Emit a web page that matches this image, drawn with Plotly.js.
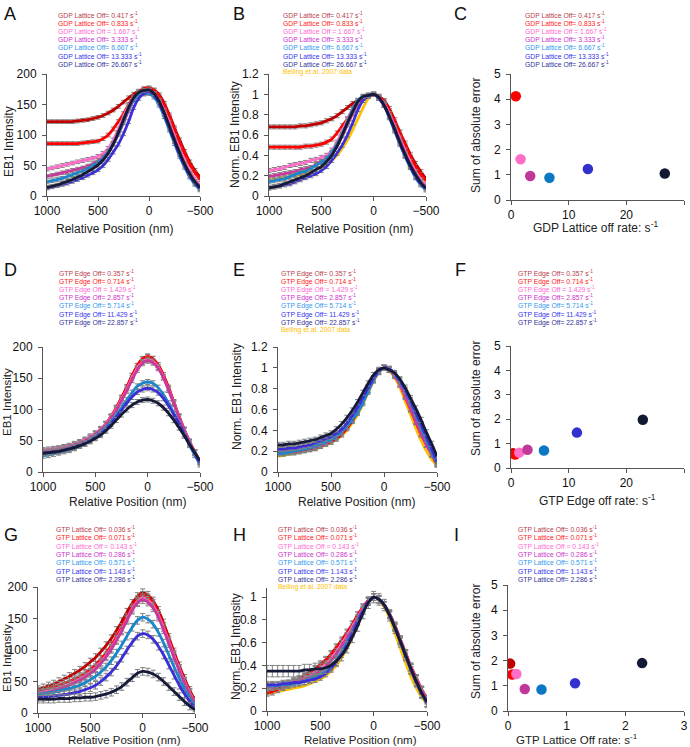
<!DOCTYPE html>
<html>
<head>
<meta charset="utf-8">
<script src="https://cdn.plot.ly/plotly-3.0.1.min.js"></script>
<style>html,body{margin:0;padding:0;background:#fff;}#chart{width:690px;height:747px;}</style>
</head>
<body>
<div id="chart"></div>
<script>
// ---------- DATA ----------
const positions = [1000,950,900,850,800,750,700,650,600,550,500,450,400,350,300,250,200,150,100,50,0,-50,-100,-150,-200,-250,-300,-350,-400,-450,-500];

// Panel A: GDP lattice off, EB1 intensity
const gdpInt1 = [122,122,122,122,122,122,123,124,125,127,129,132,136,141,147,154,161,167,172,175,177,174,166,152,133,112,92,73,56,42,31];
const gdpInt2 = [86,86,86,86,86,86,86,87,88,89,90,94,100,110,122,135,150,163,171,176,177,173,164,149,130,109,88,69,52,38,27];
const gdpInt3 = [44,46,48,50,52,54,56,58,60,62,65,70,78,92,110,130,148,160,168,171,173,168,157,140,120,98,77,58,41,28,18];
const gdpInt4 = [32,34,36,38,40,42,44,46,49,53,58,64,73,85,101,120,140,157,167,171,172,166,154,136,115,93,72,53,37,24,15];
const gdpInt5 = [23,25,27,29,32,35,38,41,45,50,55,62,72,86,103,123,143,158,165,167,168,162,149,130,108,86,65,47,31,19,10];
const gdpInt6 = [13,15,17,19,21,24,27,30,34,38,43,50,60,72,85,102,122,145,160,168,171,165,152,133,111,89,68,49,33,21,12];
const gdpInt7 = [14,16,18,21,24,27,31,35,40,45,51,59,70,85,104,125,145,161,170,173,174,168,155,136,114,92,71,52,36,23,14];

// Panel B: GDP lattice off, normalized
const gdpNorm1 = [0.68,0.68,0.68,0.68,0.68,0.68,0.69,0.69,0.70,0.71,0.72,0.74,0.76,0.79,0.83,0.87,0.91,0.94,0.97,0.99,1.0,0.98,0.94,0.86,0.75,0.63,0.52,0.41,0.32,0.24,0.17];
const gdpNorm2 = [0.48,0.48,0.48,0.48,0.48,0.48,0.48,0.49,0.49,0.50,0.51,0.53,0.56,0.62,0.69,0.76,0.85,0.92,0.96,0.99,1.0,0.98,0.93,0.84,0.73,0.62,0.50,0.39,0.29,0.21,0.15];
const gdpNorm3 = [0.25,0.26,0.27,0.28,0.30,0.31,0.32,0.33,0.35,0.36,0.38,0.40,0.45,0.53,0.64,0.75,0.86,0.93,0.97,0.99,1.0,0.97,0.91,0.81,0.69,0.57,0.45,0.34,0.24,0.16,0.10];
const gdpNorm4 = [0.19,0.20,0.21,0.22,0.23,0.24,0.26,0.27,0.28,0.31,0.34,0.37,0.42,0.49,0.59,0.70,0.81,0.91,0.97,0.99,1.0,0.97,0.90,0.79,0.67,0.54,0.42,0.31,0.22,0.14,0.09];
const gdpNorm5 = [0.14,0.15,0.16,0.17,0.19,0.21,0.23,0.24,0.27,0.30,0.33,0.37,0.43,0.51,0.61,0.73,0.85,0.94,0.98,0.99,1.0,0.96,0.89,0.77,0.64,0.51,0.39,0.28,0.18,0.11,0.06];
const gdpNorm6 = [0.08,0.09,0.10,0.11,0.12,0.14,0.16,0.18,0.20,0.22,0.25,0.29,0.35,0.42,0.50,0.60,0.72,0.85,0.94,0.98,1.0,0.96,0.89,0.78,0.65,0.52,0.40,0.29,0.19,0.12,0.07];
const gdpNorm7 = [0.08,0.09,0.10,0.12,0.14,0.16,0.18,0.20,0.23,0.26,0.29,0.34,0.40,0.49,0.60,0.72,0.83,0.93,0.98,0.99,1.0,0.97,0.89,0.78,0.66,0.53,0.41,0.30,0.21,0.13,0.08];
const beiling = [0.15,0.16,0.17,0.18,0.19,0.20,0.21,0.22,0.24,0.26,0.28,0.31,0.35,0.40,0.47,0.55,0.65,0.76,0.87,0.96,1.0,0.97,0.91,0.81,0.68,0.55,0.42,0.30,0.20,0.12,0.06];

// Panel C: GDP lattice off rate vs error
const gdpRates = [0.833,1.667,3.333,6.667,13.333,26.667];
const gdpError = [4.12,1.62,0.95,0.88,1.23,1.05];

// Panel D: GTP edge off, EB1 intensity
const edgeInt1 = [33,34,35,37,39,41,43,46,50,55,61,68,77,88,102,118,135,153,169,180,184,181,171,155,135,112,89,68,49,32,17];
const edgeInt2 = [33,34,35,37,38,40,43,46,50,55,61,68,77,89,103,119,136,154,170,181,185,181,171,155,134,111,88,67,48,31,16];
const edgeInt3 = [35,36,37,38,40,42,45,48,52,57,62,69,77,88,101,116,132,150,166,176,180,177,168,152,132,110,88,67,48,31,17];
const edgeInt4 = [32,33,34,36,38,40,43,46,50,54,60,67,75,86,99,114,130,147,163,174,178,175,166,151,131,109,87,66,47,30,16];
const edgeInt5 = [26,27,29,31,33,35,38,42,46,51,57,63,71,80,91,103,115,127,137,142,144,142,135,124,110,94,77,60,43,27,12];
const edgeInt6 = [30,31,32,33,35,37,40,43,46,50,55,61,68,77,88,99,110,120,128,132,134,132,127,118,106,92,77,61,45,30,14];
const edgeInt7 = [30,31,32,33,35,37,39,42,45,49,54,59,66,74,83,92,100,107,112,115,116,114,110,103,94,83,71,58,44,31,18];

// Panel E: GTP edge off, normalized
const edgeNorm1 = [0.18,0.18,0.19,0.19,0.20,0.21,0.22,0.23,0.25,0.27,0.29,0.32,0.36,0.42,0.49,0.57,0.67,0.78,0.88,0.96,1.0,0.98,0.93,0.84,0.73,0.61,0.48,0.37,0.27,0.17,0.08];
const edgeNorm2 = [0.18,0.18,0.19,0.19,0.20,0.21,0.22,0.23,0.25,0.27,0.30,0.33,0.37,0.43,0.50,0.58,0.68,0.79,0.89,0.97,1.0,0.98,0.92,0.84,0.72,0.60,0.48,0.36,0.26,0.17,0.07];
const edgeNorm3 = [0.21,0.21,0.22,0.22,0.23,0.24,0.25,0.26,0.28,0.30,0.32,0.35,0.39,0.44,0.51,0.59,0.68,0.79,0.89,0.97,1.0,0.98,0.93,0.84,0.73,0.61,0.49,0.37,0.27,0.17,0.09];
const edgeNorm4 = [0.19,0.19,0.20,0.20,0.21,0.22,0.23,0.24,0.26,0.28,0.31,0.34,0.38,0.44,0.51,0.59,0.68,0.79,0.89,0.96,1.0,0.98,0.93,0.85,0.74,0.61,0.49,0.37,0.26,0.17,0.09];
const edgeNorm5 = [0.18,0.18,0.19,0.20,0.21,0.22,0.23,0.25,0.27,0.29,0.31,0.34,0.39,0.44,0.50,0.57,0.66,0.77,0.88,0.96,1.0,0.99,0.94,0.87,0.78,0.67,0.55,0.43,0.31,0.19,0.08];
const edgeNorm6 = [0.22,0.22,0.23,0.23,0.24,0.25,0.26,0.28,0.30,0.32,0.34,0.37,0.41,0.47,0.54,0.62,0.71,0.81,0.90,0.97,1.0,0.99,0.95,0.88,0.79,0.69,0.57,0.46,0.34,0.22,0.10];
const edgeNorm7 = [0.26,0.26,0.27,0.27,0.28,0.29,0.30,0.31,0.33,0.35,0.37,0.41,0.46,0.52,0.59,0.67,0.76,0.85,0.93,0.98,1.0,0.98,0.95,0.89,0.81,0.71,0.61,0.50,0.38,0.27,0.15];

// Panel F: GTP edge off rate vs error
const edgeRates = [0.357,0.714,1.429,2.857,5.714,11.429,22.857];
const edgeError = [0.60,0.55,0.63,0.75,0.72,1.45,1.98];

// Panel G: GTP lattice off, EB1 intensity
const gtpInt1 = [37,40,43,46,50,54,58,63,68,74,81,88,97,107,118,131,145,160,174,185,191,187,178,163,143,120,97,75,55,36,20];
const gtpInt2 = [34,36,39,41,44,47,50,54,58,63,69,76,85,95,107,121,136,152,168,180,187,183,174,158,138,116,93,71,51,33,17];
const gtpInt3 = [31,33,35,38,40,43,46,50,54,59,65,72,81,91,103,117,132,149,165,177,183,179,170,155,135,113,91,70,50,32,16];
const gtpInt4 = [29,31,33,35,38,41,44,48,52,57,63,70,79,89,101,115,130,147,163,175,180,176,167,152,132,110,88,67,48,30,15];
const gtpInt5 = [30,31,32,33,35,37,39,41,44,48,53,58,65,73,83,95,108,122,136,147,152,149,141,128,111,92,73,55,38,23,11];
const gtpInt6 = [25,25,26,27,28,29,30,32,34,37,40,44,50,57,65,75,87,100,112,122,126,124,117,106,92,76,60,44,30,18,8];
const gtpInt7 = [22,22,22,22,23,23,23,24,24,25,25,26,28,30,33,37,42,49,56,63,66,65,62,57,50,42,34,26,18,11,5];

// Panel H: GTP lattice off, normalized
const gtpNorm1 = [0.17,0.18,0.20,0.22,0.24,0.26,0.28,0.31,0.34,0.37,0.41,0.45,0.50,0.56,0.62,0.69,0.76,0.84,0.91,0.97,1.0,0.98,0.93,0.85,0.75,0.63,0.51,0.39,0.29,0.19,0.11];
const gtpNorm2 = [0.16,0.17,0.19,0.21,0.23,0.25,0.27,0.30,0.33,0.36,0.40,0.44,0.49,0.55,0.61,0.68,0.76,0.84,0.91,0.97,1.0,0.98,0.93,0.85,0.74,0.62,0.50,0.38,0.28,0.18,0.10];
const gtpNorm3 = [0.20,0.21,0.22,0.23,0.24,0.26,0.27,0.29,0.31,0.34,0.37,0.41,0.46,0.52,0.59,0.66,0.74,0.82,0.90,0.96,1.0,0.98,0.93,0.85,0.74,0.62,0.50,0.38,0.28,0.18,0.10];
const gtpNorm4 = [0.21,0.21,0.22,0.23,0.24,0.25,0.26,0.28,0.30,0.32,0.35,0.39,0.44,0.50,0.57,0.64,0.72,0.81,0.89,0.96,1.0,0.98,0.93,0.85,0.74,0.62,0.50,0.38,0.28,0.18,0.09];
const gtpNorm5 = [0.22,0.22,0.22,0.23,0.23,0.24,0.25,0.26,0.28,0.30,0.32,0.35,0.39,0.45,0.52,0.60,0.69,0.79,0.88,0.96,1.0,0.98,0.93,0.84,0.73,0.61,0.48,0.36,0.25,0.15,0.07];
const gtpNorm6 = [0.23,0.23,0.23,0.24,0.24,0.25,0.25,0.26,0.27,0.28,0.30,0.33,0.37,0.43,0.50,0.58,0.68,0.78,0.88,0.96,1.0,0.98,0.93,0.84,0.73,0.61,0.48,0.36,0.25,0.15,0.07];
const gtpNorm7 = [0.35,0.35,0.35,0.35,0.35,0.35,0.35,0.36,0.36,0.37,0.37,0.38,0.40,0.44,0.49,0.56,0.65,0.75,0.86,0.95,1.0,0.98,0.93,0.84,0.73,0.61,0.49,0.37,0.26,0.16,0.08];

// Panel I: GTP lattice off rate vs error
const gtpRates = [0.036,0.071,0.143,0.286,0.571,1.143,2.286];
const gtpError = [1.88,1.45,1.47,0.87,0.85,1.10,1.90];

// Legend labels and axis texts
const gdpLabels = ["GDP Lattice Off= 0.417 s<sup>-1</sup>","GDP Lattice Off= 0.833 s<sup>-1</sup>","GDP Lattice Off = 1.667 s<sup>-1</sup>","GDP Lattice Off= 3.333 s<sup>-1</sup>","GDP Lattice Off= 6.667 s<sup>-1</sup>","GDP Lattice Off= 13.333 s<sup>-1</sup>","GDP Lattice Off= 26.667 s<sup>-1</sup>"];
const edgeLabels = ["GTP Edge Off= 0.357 s<sup>-1</sup>","GTP Edge Off= 0.714 s<sup>-1</sup>","GTP Edge Off = 1.429 s<sup>-1</sup>","GTP Edge Off= 2.857 s<sup>-1</sup>","GTP Edge Off= 5.714 s<sup>-1</sup>","GTP Edge Off= 11.429 s<sup>-1</sup>","GTP Edge Off= 22.857 s<sup>-1</sup>"];
const gtpLabels = ["GTP Lattice Off= 0.036 s<sup>-1</sup>","GTP Lattice Off= 0.071 s<sup>-1</sup>","GTP Lattice Off = 0.143 s<sup>-1</sup>","GTP Lattice Off= 0.286 s<sup>-1</sup>","GTP Lattice Off= 0.571 s<sup>-1</sup>","GTP Lattice Off= 1.143 s<sup>-1</sup>","GTP Lattice Off= 2.286 s<sup>-1</sup>"];
const beilingLabel = "Beiling et al. 2007 data";
const posTicks = [1000,500,0,-500];
const posTitle = "Relative Position (nm)";
const intTitle = "EB1 Intensity";
const normTitle = "Norm. EB1 Intensity";
const errTitle = "Sum of absolute error";
const rateTitles = ["GDP Lattice off rate: s<sup>-1</sup>","GTP Edge off rate: s<sup>-1</sup>","GTP Lattice Off rate: s<sup>-1</sup>"];

// ---------- STYLE ----------
const W = 690, H = 747;
const lineColors = ["#C00000","#FF0000","#FF6EC7","#C8389A","#1A86CC","#3A2FD6","#141A38"];
const dotColors  = ["#C00000","#FF0000","#FF6EC7","#C0399A","#0C78C4","#3330D0","#121A33"];
const textColors = ["#B5404A","#FF1A1A","#FF6AD0","#CC33CC","#3399EE","#3333EE","#333399"];
const gold = "#FFC000";
const FONT = "Liberation Sans, Arial, sans-serif";

function xd(a,b){return [a/W, b/W];}
function yd(top,bottom){return [1-bottom/H, 1-top/H];}

const traces = [];
function addCurves(n, series, err, errBig){
  series.forEach((ys,i)=>{
    traces.push({
      type:'scatter', mode:'lines', x:positions, y:ys,
      xaxis:'x'+(n===1?'':n), yaxis:'y'+(n===1?'':n),
      line:{color:lineColors[i], width:2.8, shape:'spline', smoothing:0.8},
      error_y:{type:'constant', value:(errBig && i===6)?errBig:err, color:'#808080', thickness:1, width:2.5},
      showlegend:false, hoverinfo:'skip'
    });
  });
}
function addBeiling(n){
  traces.push({
    type:'scatter', mode:'lines', x:positions, y:beiling,
    xaxis:'x'+n, yaxis:'y'+n,
    line:{color:gold, width:2.8, shape:'spline', smoothing:0.8},
    showlegend:false, hoverinfo:'skip'
  });
}
function addDots(n, xs, ys, colors){
  traces.push({
    type:'scatter', mode:'markers', x:xs, y:ys,
    xaxis:'x'+n, yaxis:'y'+n,
    marker:{color:colors, size:10.5, line:{width:0}},
    showlegend:false, hoverinfo:'skip'
  });
}

addCurves(1,[gdpInt1,gdpInt2,gdpInt3,gdpInt4,gdpInt5,gdpInt6,gdpInt7],3);
addBeiling(2);
addCurves(2,[gdpNorm1,gdpNorm2,gdpNorm3,gdpNorm4,gdpNorm5,gdpNorm6,gdpNorm7],0.02);
addDots(3,gdpRates,gdpError,dotColors.slice(1));
addCurves(4,[edgeInt1,edgeInt2,edgeInt3,edgeInt4,edgeInt5,edgeInt6,edgeInt7],4);
addBeiling(5);
addCurves(5,[edgeNorm1,edgeNorm2,edgeNorm3,edgeNorm4,edgeNorm5,edgeNorm6,edgeNorm7],0.025);
addDots(6,edgeRates,edgeError,dotColors);
addCurves(7,[gtpInt1,gtpInt2,gtpInt3,gtpInt4,gtpInt5,gtpInt6,gtpInt7],6);
addBeiling(8);
addCurves(8,[gtpNorm1,gtpNorm2,gtpNorm3,gtpNorm4,gtpNorm5,gtpNorm6,gtpNorm7],0.03,0.05);
addDots(9,gtpRates,gtpError,dotColors);

function axis(extra){
  return Object.assign({
    showgrid:false, zeroline:false, showline:true, linecolor:'#555', linewidth:1,
    ticks:'outside', ticklen:4, tickcolor:'#555', tickwidth:1,
    tickfont:{family:FONT, size:12, color:'#111'},
    fixedrange:true
  }, extra);
}
function xPos(a,b,anchor){
  return axis({domain:xd(a,b), anchor:anchor, range:[1000,-500], tickvals:posTicks, ticklabelstandoff:0});
}
function xRate(a,b,anchor,max,dt){
  return axis({domain:xd(a,b), anchor:anchor, range:[0,max], dtick:dt, tick0:0, ticklabelstandoff:0});
}
function yAx(top,bottom,anchor,max,dt){
  return axis({domain:yd(top,bottom), anchor:anchor, range:[0,max], dtick:dt, tick0:0, ticklabelstandoff:3});
}

const layout = {
  width:W, height:H, margin:{l:0,r:0,t:0,b:0},
  paper_bgcolor:'#fff', plot_bgcolor:'rgba(0,0,0,0)', showlegend:false,
  font:{family:FONT},
  xaxis:  xPos(47,200,'y'),
  yaxis:  yAx(74,196,'x',200,50),
  xaxis2: xPos(269,426,'y2'),
  yaxis2: yAx(74,196,'x2',1.2,0.2),
  xaxis3: xRate(511,684,'y3',30,10),
  yaxis3: yAx(74,200,'x3',5,1),
  xaxis4: xPos(43,200,'y4'),
  yaxis4: yAx(347,472,'x4',200,50),
  xaxis5: xPos(278,437,'y5'),
  yaxis5: yAx(347,472,'x5',1.2,0.2),
  xaxis6: xRate(511,684,'y6',30,10),
  yaxis6: yAx(346,468,'x6',5,1),
  xaxis7: xPos(38,195,'y7'),
  yaxis7: yAx(587,713,'x7',200,50),
  xaxis8: xPos(267,427,'y8'),
  yaxis8: yAx(588,711,'x8',1.08,0.2),
  xaxis9: xRate(508,684,'y9',3,1),
  yaxis9: yAx(585,711,'x9',5,1),
  annotations:[]
};

function txt(t,x,y,size,color,angle,xa,ya){
  layout.annotations.push({text:t, xref:'paper', yref:'paper', x:x/W, y:1-y/H,
    xanchor:xa||'center', yanchor:ya||'middle', showarrow:false, textangle:angle||0,
    font:{family:FONT,size:size,color:color}});
}

// panel letters
[["A",2,2],["B",231,2],["C",452,2],["D",2,258],["E",231,258],["F",453,258],["G",2,523],["H",231,523],["I",452,523]]
  .forEach(([t,x,y])=>txt(t,x,y,18,'#111',0,'left','top'));

// axis titles (x-axis)
txt(posTitle,114,229,12,'#222');
txt(posTitle,354,229,12,'#222');
txt(rateTitles[0],595,227,12,'#222');
txt(posTitle,127,502,12,'#222');
txt(posTitle,356,502,12,'#222');
txt(rateTitles[1],597,500,12,'#222');
txt(posTitle,124,740,11.5,'#222');
txt(posTitle,360,740,11.5,'#222');
txt(rateTitles[2],577,739,11.5,'#222');
// axis titles (y-axis)
txt(intTitle,9,142,12,'#222',-90);
txt(normTitle,235,135,12,'#222',-90);
txt(errTitle,476,136,12,'#222',-90);
txt(intTitle,7,402,11.5,'#222',-90);
txt(normTitle,237,397,12,'#222',-90);
txt(errTitle,476,399,12,'#222',-90);
txt(intTitle,7,658,11.5,'#222',-90);
txt(normTitle,236,647,12,'#222',-90);
txt(errTitle,476,642,12,'#222',-90);

function addLegend(labels, x0, y0, dy, withBeiling){
  labels.forEach((t,i)=>txt(t,x0,y0+i*dy,6.8,textColors[i],0,'left','middle'));
  if(withBeiling) txt(beilingLabel,x0,y0+7*dy,6.8,gold,0,'left','middle');
}
addLegend(gdpLabels,56,15,8.1,false);
addLegend(gdpLabels,281,15,8.1,true);
addLegend(gdpLabels,523,15,8.1,false);
addLegend(edgeLabels,57,273,8.2,false);
addLegend(edgeLabels,279,273,8.2,true);
addLegend(edgeLabels,516,273,8.2,false);
addLegend(gtpLabels,54,529,8.3,false);
addLegend(gtpLabels,276,529,8.3,true);
addLegend(gtpLabels,516,529,8.3,false);

Plotly.newPlot('chart', traces, layout, {staticPlot:true, displayModeBar:false});
</script>
</body>
</html>
